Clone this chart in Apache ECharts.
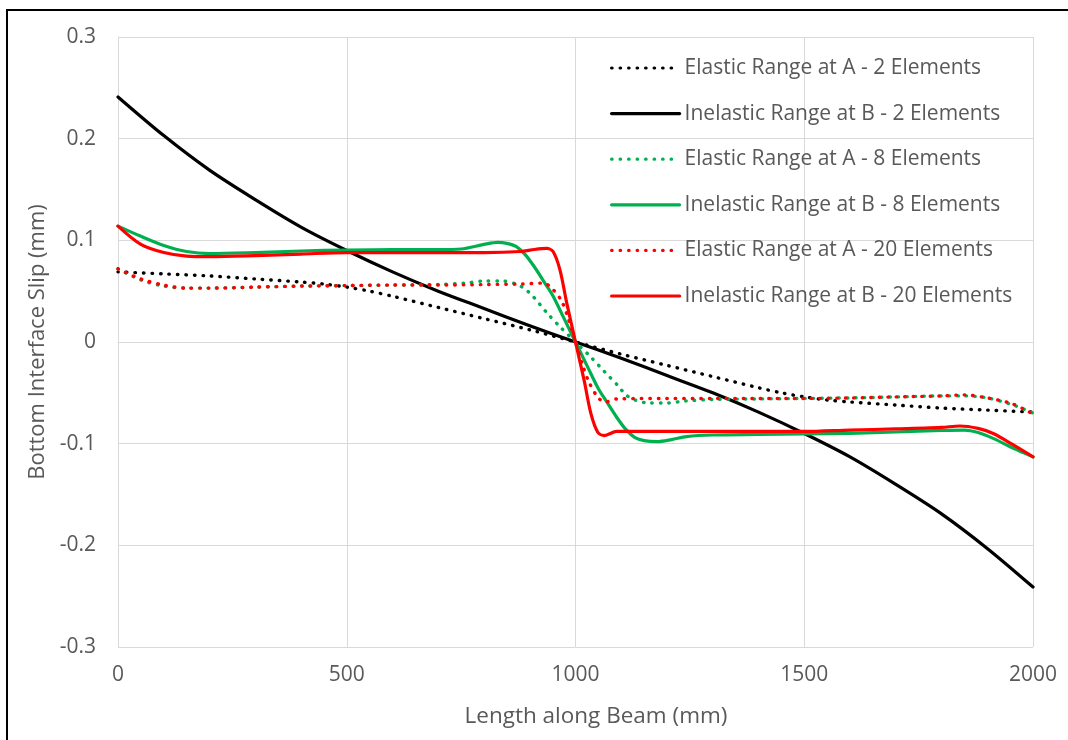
<!DOCTYPE html>
<html>
<head>
<meta charset="utf-8">
<script src="https://cdn.jsdelivr.net/npm/echarts@6/dist/echarts.min.js"></script>
<style>
  html, body { margin: 0; padding: 0; background: #ffffff; }
  #chart { position: absolute; left: 0; top: 0; width: 1068px; height: 740px; }
  #frame { position: absolute; left: 6px; top: 9px; width: 1100px; height: 800px;
           border-left: 2px solid #000; border-top: 2px solid #000; pointer-events: none; }
</style>
</head>
<body>
<div id="chart"></div>
<div id="frame"></div>
<script>
// Slip along the bottom interface of the beam (mm) vs. position (mm)

const xTicks = [0, 500, 1000, 1500, 2000];
const yTicks = [-0.3, -0.2, -0.1, 0, 0.1, 0.2, 0.3];

const seriesNames = [
  'Elastic Range at A - 2 Elements',
  'Inelastic Range at B - 2 Elements',
  'Elastic Range at A - 8 Elements',
  'Inelastic Range at B - 8 Elements',
  'Elastic Range at A - 20 Elements',
  'Inelastic Range at B - 20 Elements'
];

// Elastic range at A, 2 elements
const elasticA2X = [0, 100, 200, 300, 400, 450, 500, 550, 600, 700, 800, 900, 1000,
                    1100, 1200, 1300, 1400, 1450, 1500, 1550, 1600, 1700, 1800, 1900, 2000];
const elasticA2Y = [0.069, 0.067, 0.065, 0.062, 0.059, 0.057, 0.054, 0.050, 0.045, 0.034, 0.023, 0.012, 0,
                    -0.012, -0.023, -0.034, -0.045, -0.050, -0.054, -0.057, -0.059, -0.062, -0.065, -0.067, -0.069];

// Inelastic range at B, 2 elements
const inelasticB2X = [0, 100, 200, 300, 400, 500, 600, 700, 800, 900, 1000,
                      1100, 1200, 1300, 1400, 1500, 1600, 1700, 1800, 1900, 2000];
const inelasticB2Y = [0.241, 0.203, 0.169, 0.140, 0.113, 0.090, 0.069, 0.050, 0.033, 0.016, 0,
                      -0.016, -0.033, -0.050, -0.069, -0.090, -0.113, -0.140, -0.169, -0.203, -0.241];

// Elastic range at A, 8 elements
const elasticA8X = [0, 50, 100, 150, 200, 300, 400, 500, 600, 700, 760, 800, 840, 870, 890, 907, 937, 966, 1000,
                    1034, 1063, 1093, 1110, 1130, 1160, 1200, 1240, 1300, 1400, 1500, 1600, 1700, 1800, 1850, 1900, 1950, 1980, 2000];
const elasticA8Y = [0.072, 0.061, 0.055, 0.053, 0.053, 0.054, 0.055, 0.0555, 0.056, 0.0565, 0.058, 0.060, 0.060, 0.057, 0.052, 0.045, 0.029, 0.015, 0,
                    -0.015, -0.029, -0.043, -0.052, -0.057, -0.060, -0.060, -0.058, -0.0565, -0.056, -0.0555, -0.055, -0.054, -0.053, -0.053, -0.055, -0.061, -0.066, -0.070];

// Inelastic range at B, 8 elements
const inelasticB8X = [0, 50, 100, 150, 200, 300, 400, 500, 600, 700, 750, 800, 830, 850, 870, 890, 910, 933, 950, 973, 1000,
                      1027, 1050, 1067, 1090, 1110, 1130, 1150, 1178, 1210, 1243, 1300, 1400, 1500, 1600, 1700, 1800, 1850, 1880, 1913, 1950, 1980, 2000];
const inelasticB8Y = [0.114, 0.104, 0.095, 0.089, 0.087, 0.088, 0.0895, 0.0905, 0.091, 0.091, 0.0915, 0.096, 0.098, 0.097, 0.094, 0.086, 0.074, 0.058, 0.046, 0.025, 0,
                      -0.025, -0.046, -0.058, -0.074, -0.086, -0.094, -0.097, -0.098, -0.096, -0.093, -0.0915, -0.091, -0.0905, -0.0898, -0.0885, -0.087, -0.0866, -0.089, -0.0948, -0.103, -0.109, -0.113];

// Elastic range at A, 20 elements
const elasticA20X = [0, 50, 100, 150, 200, 300, 400, 500, 600, 700, 800, 880, 930, 950, 970, 985, 1000,
                     1015, 1030, 1050, 1065, 1090, 1200, 1300, 1400, 1500, 1600, 1700, 1800, 1850, 1900, 1950, 1980, 2000];
const elasticA20Y = [0.072, 0.062, 0.056, 0.053, 0.053, 0.054, 0.055, 0.0555, 0.056, 0.056, 0.0565, 0.057, 0.058, 0.052, 0.040, 0.022, 0,
                     -0.022, -0.040, -0.055, -0.059, -0.056, -0.0555, -0.0555, -0.0555, -0.0555, -0.055, -0.054, -0.053, -0.052, -0.055, -0.060, -0.066, -0.071];

// Inelastic range at B, 20 elements
const inelasticB20X = [0, 50, 100, 150, 200, 300, 400, 500, 600, 700, 800, 880, 910, 937, 951, 966, 981, 1000,
                       1019, 1034, 1049, 1063, 1090, 1120, 1200, 1300, 1400, 1500, 1600, 1700, 1800, 1840, 1880, 1913, 1956, 2000];
const inelasticB20Y = [0.114, 0.096, 0.088, 0.0845, 0.084, 0.085, 0.0865, 0.088, 0.088, 0.088, 0.088, 0.089, 0.091, 0.092, 0.089, 0.071, 0.038, 0,
                       -0.038, -0.071, -0.089, -0.092, -0.088, -0.088, -0.088, -0.088, -0.088, -0.088, -0.0866, -0.0855, -0.084, -0.0826, -0.085, -0.090, -0.101, -0.113];

const BLACK = '#000000', GREEN = '#00B050', RED = '#FF0000';
const TEXT = '#595959', GRID = '#D9D9D9';
const FONT = 'Open Sans';
const DOT = [0.5, 8];

function pairs(xs, ys) { return xs.map((x, i) => [x, ys[i]]); }

function line(name, xs, ys, color, dotted) {
  return {
    name: name,
    type: 'line',
    data: pairs(xs, ys),
    smooth: 0.3,
    symbol: 'none',
    showSymbol: false,
    animation: false,
    lineStyle: {
      color: color,
      width: dotted ? 3.4 : 3.2,
      type: dotted ? DOT : 'solid',
      cap: 'round',
      join: 'round'
    },
    itemStyle: { color: color }
  };
}

const chart = echarts.init(document.getElementById('chart'), null, { renderer: 'canvas' });

chart.setOption({
  backgroundColor: 'transparent',
  animation: false,
  textStyle: { fontFamily: FONT },
  grid: { left: 118, right: 35, top: 37, bottom: 93, containLabel: false },
  legend: {
    orient: 'vertical',
    left: 605,
    top: 52,
    itemWidth: 68,
    itemHeight: 14,
    itemGap: 23.6,
    itemStyle: { opacity: 0 },
    lineStyle: { width: 3.2 },
    textStyle: { color: TEXT, fontSize: 21, fontFamily: FONT, lineHeight: 22 },
    data: seriesNames
  },
  xAxis: {
    type: 'value',
    min: xTicks[0],
    max: xTicks[xTicks.length - 1],
    interval: 500,
    name: 'Length along Beam (mm)',
    nameLocation: 'middle',
    nameGap: 58,
    nameTextStyle: { color: TEXT, fontSize: 22.5, fontFamily: FONT, padding: [0, 0, 0, 41] },
    axisLine: { show: true, lineStyle: { color: GRID, width: 1 } },
    axisTick: { show: false },
    axisLabel: { color: TEXT, fontSize: 21, fontFamily: FONT, margin: 18, formatter: v => String(v) },
    splitLine: { show: true, lineStyle: { color: GRID, width: 1 } }
  },
  yAxis: {
    type: 'value',
    min: yTicks[0],
    max: yTicks[yTicks.length - 1],
    interval: 0.1,
    name: 'Bottom Interface Slip (mm)',
    nameLocation: 'middle',
    nameGap: 64,
    nameTextStyle: { color: TEXT, fontSize: 22, fontFamily: FONT },
    axisLine: { show: true, lineStyle: { color: GRID, width: 1 } },
    axisTick: { show: false },
    axisLabel: {
      color: TEXT, fontSize: 21, fontFamily: FONT, margin: 22,
      formatter: v => String(Math.round(v * 10) / 10)
    },
    splitLine: { show: true, lineStyle: { color: GRID, width: 1 } }
  },
  series: [
    line(seriesNames[0], elasticA2X, elasticA2Y, BLACK, true),
    line(seriesNames[1], inelasticB2X, inelasticB2Y, BLACK, false),
    line(seriesNames[2], elasticA8X, elasticA8Y, GREEN, true),
    line(seriesNames[3], inelasticB8X, inelasticB8Y, GREEN, false),
    line(seriesNames[4], elasticA20X, elasticA20Y, RED, true),
    line(seriesNames[5], inelasticB20X, inelasticB20Y, RED, false)
  ]
});
</script>
</body>
</html>
